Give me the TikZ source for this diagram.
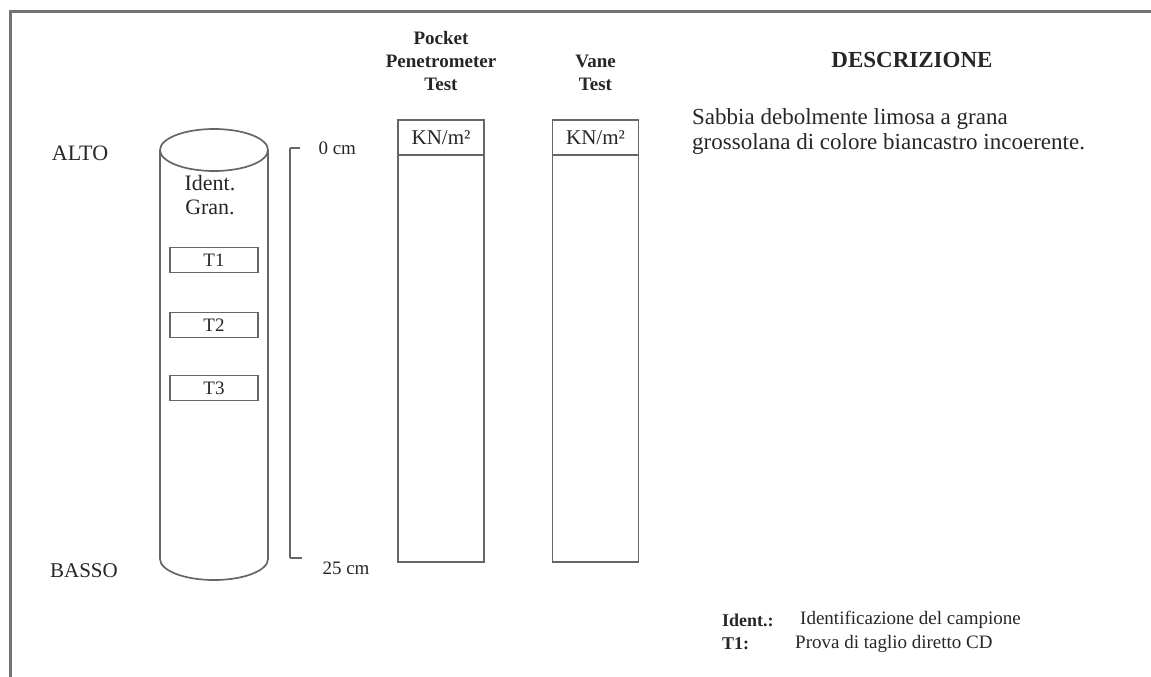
\documentclass[tikz,border=0pt]{standalone}
\usepackage{fontspec}
\setmainfont{Liberation Serif}
\usetikzlibrary{positioning,calc}

\begin{document}
\begin{tikzpicture}[x=1pt,y=-1pt,
  every node/.style={text=black!85,font=\fontsize{22}{24}\selectfont},
  edge/.style={draw=black!60,line width=1.7pt},
  tbox/.style={draw=black!60,line width=1.7pt,minimum width=88pt,minimum height=25pt,inner sep=0pt,
    font=\fontsize{19}{22}\selectfont},
  col/.style={draw=black!60,line width=1.7pt,minimum width=86pt,minimum height=442pt,inner sep=0pt},
  hdr/.style={draw=black!60,line width=1.7pt,minimum width=86pt,minimum height=35pt,inner sep=0pt,
    font=\fontsize{21}{24}\selectfont},
  small/.style={font=\fontsize{19}{24}\selectfont},
  ttl/.style={align=center,font=\fontsize{19}{23}\selectfont\bfseries}]
  \useasboundingbox (0,0) rectangle (1151,677);
  % ---- frame ----
  \draw[black!55,line width=3pt] (10,677) -- (10,12) -- (1151,12);
  % ---- levels ----
  \node (alto) at (80,153) {ALTO};
  \node[font=\fontsize{21}{24}\selectfont] (basso) at (84,571) {BASSO};
  % ---- sample cylinder ----
  \draw[edge] (214,150) ellipse[x radius=54,y radius=21];
  \draw[edge] (160,150) -- (160,559) arc[start angle=180,end angle=0,x radius=54,y radius=21] -- (268,150);
  \node[align=center] (ident) at (210,195) {Ident.\\Gran.};
  \node[tbox] (t1) at (214,260) {T1};
  \node[tbox] (t2) at (214,325) {T2};
  \node[tbox] (t3) at (214,388) {T3};
  % ---- depth scale ----
  \coordinate (s0) at (290,148);
  \coordinate (s25) at (290,558);
  \draw[edge] (s0) -- (s25);
  \draw[edge] (s0) -- ++(10,0) coordinate (s0t);
  \draw[edge] (s25) -- ++(12,0) coordinate (s25t);
  \node[right=15pt of s0t,small] (l0) {0 cm};
  \node[right=17pt of s25t,yshift=-10pt,small] (l25) {25 cm};
  % ---- test columns ----
  \node[col] (ppt) at (441,341) {};
  \node[col] (vane) at (595.5,341) {};
  \node[hdr,anchor=north] (pptu) at (ppt.north) {KN/m²};
  \node[hdr,anchor=north] (vaneu) at (vane.north) {KN/m²};
  \node[ttl,above=25pt of ppt] (pptt) {Pocket\\Penetrometer\\Test};
  \node[ttl,above=25pt of vane] (vanet) {Vane\\Test};
  % ---- description ----
  \node[font=\fontsize{23}{25}\selectfont\bfseries] (descr) at (912,60) {DESCRIZIONE};
  \node[anchor=north west,align=left,inner sep=0pt,font=\fontsize{23}{25}\selectfont] (dtext) at (692,108)
    {Sabbia debolmente limosa a grana\\grossolana di colore biancastro incoerente.};
  % ---- legend ----
  \node[anchor=west,inner sep=0pt,font=\fontsize{18}{22}\selectfont\bfseries] (kid) at (722,620) {Ident.:};
  \node[anchor=west,small,inner sep=0pt] (vid) at (800,620) {Identificazione del campione};
  \node[anchor=west,inner sep=0pt,font=\fontsize{18}{22}\selectfont\bfseries] (kt1) at (722,644) {T1:};
  \node[anchor=west,small,inner sep=0pt] (vt1) at (795,644) {Prova di taglio diretto CD};
\end{tikzpicture}
\end{document}
